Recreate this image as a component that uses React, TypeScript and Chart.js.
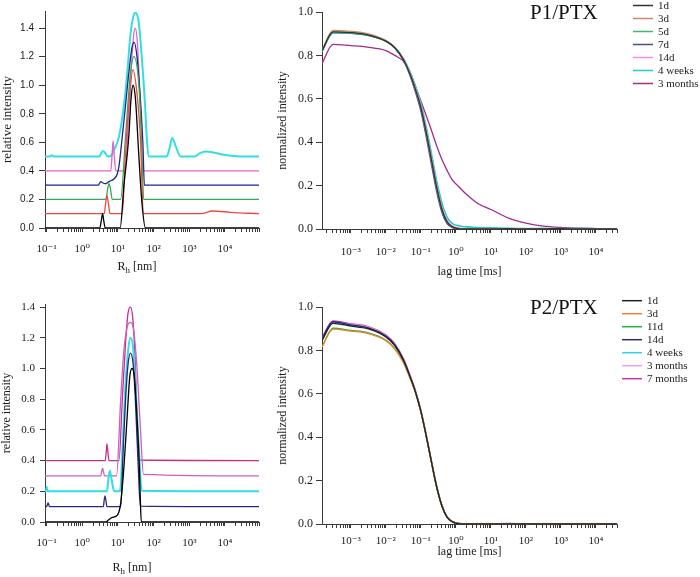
import React, { useEffect, useRef } from 'react';
import { Chart, registerables } from 'chart.js';
Chart.register(...registerables);

const SERIF = '"Liberation Serif", "Times New Roman", "DejaVu Serif", serif';
const SANS = '"Liberation Sans", Arial, sans-serif';

// ---------- tick definitions ----------
const sizeDecades = [0.1, 1, 10, 100, 1000, 10000];
const sizeDecadeLabels = ['10⁻¹', '10⁰', '10¹', '10²', '10³', '10⁴'];
const lagDecades = [0.001, 0.01, 0.1, 1, 10, 100, 1000, 10000];
const lagDecadeLabels = ['10⁻³', '10⁻²', '10⁻¹', '10⁰', '10¹', '10²', '10³', '10⁴'];
const relTicks = [0, 0.2, 0.4, 0.6, 0.8, 1.0, 1.2, 1.4];
const normTicks = [0, 0.2, 0.4, 0.6, 0.8, 1.0];

// ---------- top-left: P1/PTX size distributions (R_h in nm) ----------
const tl1dR = [0.09, 3.1, 3.4, 3.7, 4.0, 4.4, 11.5, 14.7, 20.1, 23.3, 26.5, 30.8, 38, 46.5, 59, 90000];
const tl1dI = [0, 0, 0.05, 0.1, 0.05, 0, 0, 0.3, 0.64, 0.91, 1.0, 0.91, 0.53, 0.19, 0, 0];
const tl3dR = [0.09, 4.1, 4.5, 4.9, 5.4, 6.0, 13.2, 16.3, 20.1, 26.4, 33.9, 42.4, 52, 2150, 4500, 14500, 90000];
const tl3dI = [0.1, 0.1, 0.17, 0.23, 0.17, 0.1, 0.1, 0.525, 0.86, 1.11, 0.95, 0.64, 0.1, 0.1, 0.119, 0.11, 0.1];
const tl5dR = [0.09, 4.6, 5.1, 5.6, 6.2, 6.9, 11.9, 16.3, 22.4, 28, 38, 46.5, 52.5, 90000];
const tl5dI = [0.2, 0.2, 0.27, 0.31, 0.27, 0.2, 0.2, 0.64, 1.085, 1.2, 1.02, 0.59, 0.2, 0.2];
const tl7dR = [0.085, 0.1, 2.8, 3.3, 3.8, 4.5, 5.6, 7.8, 9.6, 10.7, 13.2, 16.3, 20.1, 24.8, 28.7, 34.1, 42.4, 50, 55, 90000];
const tl7dI = [0.325, 0.3, 0.3, 0.325, 0.315, 0.31, 0.325, 0.345, 0.38, 0.435, 0.64, 0.86, 1.085, 1.265, 1.3, 1.2, 0.906, 0.59, 0.3, 0.3];
const tl14dR = [0.09, 6.3, 6.8, 7.3, 7.9, 8.7, 16, 19.5, 24, 27.5, 30.7, 35, 41, 47, 52, 90000];
const tl14dI = [0.4, 0.4, 0.5, 0.61, 0.5, 0.4, 0.4, 0.75, 1.15, 1.35, 1.4, 1.3, 0.95, 0.6, 0.4, 0.4];
const tl4wR = [0.09, 0.12, 0.14, 0.16, 3.0, 3.4, 3.8, 4.4, 5.2, 6.3, 7.8, 10.7, 14.7, 18.2, 22.4, 27.5, 30.7, 38, 46.5, 57.5, 64, 72, 230, 280, 331, 420, 575, 1400, 2000, 2950, 9400, 22000, 90000];
const tl4wI = [0.5, 0.5, 0.51, 0.5, 0.5, 0.525, 0.54, 0.525, 0.5, 0.505, 0.547, 0.64, 0.86, 1.085, 1.355, 1.49, 1.507, 1.445, 1.2, 0.86, 0.64, 0.503, 0.5, 0.56, 0.63, 0.57, 0.5, 0.5, 0.525, 0.536, 0.513, 0.503, 0.5];

// ---------- bottom-left: P2/PTX size distributions ----------
const bl1dR = [0.09, 4.6, 5.5, 6.9, 9.6, 11.9, 14.7, 18.1, 21.4, 24.8, 28.9, 34.1, 39.8, 42.4, 45.2, 90000];
const bl1dI = [0, 0, 0.015, 0.03, 0.045, 0.12, 0.36, 0.686, 0.946, 1.0, 0.946, 0.686, 0.36, 0.143, 0, 0];
const bl14dR = [0.09, 0.1, 0.11, 0.12, 3.9, 4.1, 4.3, 4.6, 4.9, 11.9, 14.0, 16.3, 19.3, 22.4, 26.5, 30.8, 36.4, 42.4, 90000];
const bl14dI = [0.1, 0.1, 0.125, 0.1, 0.1, 0.14, 0.17, 0.14, 0.1, 0.1, 0.469, 0.794, 1.033, 1.1, 1.033, 0.794, 0.4, 0.104, 0.1];
const bl4wR = [0.09, 0.095, 0.1, 0.108, 4.9, 5.4, 5.9, 6.6, 7.8, 11.4, 14.0, 16.3, 19.3, 22.4, 26.5, 30.8, 38, 46.5, 90000];
const bl4wI = [0.2, 0.2, 0.23, 0.2, 0.2, 0.28, 0.334, 0.28, 0.2, 0.2, 0.577, 0.9, 1.12, 1.2, 1.14, 0.9, 0.51, 0.204, 0.2];
const bl3mR = [0.09, 3.3, 3.5, 3.7, 3.9, 4.2, 9.1, 11.9, 14.7, 18.1, 22.4, 27.5, 34, 42.4, 52, 90000];
const bl3mI = [0.3, 0.3, 0.33, 0.35, 0.33, 0.3, 0.3, 0.794, 1.12, 1.27, 1.3, 1.25, 1.01, 0.62, 0.31, 0.3];
const bl7mR = [0.09, 4.4, 4.7, 4.9, 5.2, 5.6, 10.7, 13.2, 16.3, 19.1, 22.4, 26.3, 30.9, 34, 38, 90000];
const bl7mI = [0.4, 0.4, 0.46, 0.508, 0.46, 0.4, 0.4, 0.794, 1.163, 1.359, 1.4, 1.315, 1.01, 0.686, 0.404, 0.4];

// ---------- correlation functions (lag time in ms) ----------
const lagTimes = [0.00015, 0.00031, 0.001, 0.003, 0.01, 0.018, 0.032, 0.05, 0.071, 0.1, 0.14, 0.2, 0.28, 0.4, 0.56, 0.8, 1.3, 2, 4, 10, 32, 100, 320, 1000, 3200, 10000, 40000];

const p1_1d = [0.822, 0.908, 0.905, 0.895, 0.866, 0.835, 0.78, 0.71, 0.64, 0.56, 0.45, 0.32, 0.195, 0.09, 0.033, 0.01, 0.001, 0, 0.001, 0, 0.002, 0, 0.001, 0.002, 0, 0.001, 0];
const p1_3d = [0.826, 0.915, 0.911, 0.9, 0.869, 0.837, 0.781, 0.71, 0.64, 0.56, 0.45, 0.32, 0.195, 0.09, 0.034, 0.01, 0.002, 0.001, 0, 0.002, 0, 0.001, 0, 0.001, 0.002, 0, 0];
const p1_5d = [0.818, 0.906, 0.903, 0.894, 0.865, 0.834, 0.779, 0.709, 0.639, 0.558, 0.448, 0.318, 0.193, 0.089, 0.032, 0.009, 0.001, 0, 0.001, 0, 0.001, 0.002, 0, 0.001, 0, 0.001, 0];
const p1_7d = [0.82, 0.905, 0.903, 0.893, 0.866, 0.834, 0.776, 0.703, 0.628, 0.543, 0.43, 0.298, 0.175, 0.076, 0.025, 0.006, 0, 0, 0.001, 0, 0.001, 0, 0.002, 0, 0.001, 0, 0];
const p1_14d = [0.822, 0.908, 0.905, 0.896, 0.867, 0.836, 0.782, 0.714, 0.646, 0.568, 0.46, 0.333, 0.207, 0.1, 0.04, 0.014, 0.004, 0.002, 0.001, 0, 0.002, 0, 0.001, 0, 0.002, 0, 0.001];
const p1_4w = [0.818, 0.905, 0.902, 0.893, 0.866, 0.837, 0.785, 0.72, 0.655, 0.58, 0.475, 0.35, 0.225, 0.12, 0.055, 0.025, 0.014, 0.01, 0.007, 0.005, 0.003, 0.002, 0.003, 0.002, 0.003, 0.001, 0];
const p1_3m = [0.763, 0.851, 0.845, 0.838, 0.822, 0.8, 0.772, 0.72, 0.655, 0.59, 0.525, 0.455, 0.385, 0.32, 0.27, 0.225, 0.19, 0.16, 0.12, 0.09, 0.05, 0.027, 0.013, 0.007, 0.004, 0.002, 0];

const p2_1d = [0.845, 0.925, 0.912, 0.9, 0.862, 0.822, 0.754, 0.675, 0.605, 0.519, 0.411, 0.287, 0.174, 0.083, 0.032, 0.01, 0.001, 0, 0.001, 0, 0.001, 0, 0, 0.001, 0, 0, 0];
const p2_3d = [0.815, 0.898, 0.889, 0.879, 0.845, 0.806, 0.742, 0.668, 0.603, 0.518, 0.411, 0.287, 0.175, 0.084, 0.033, 0.011, 0.002, 0, 0.001, 0, 0, 0.001, 0, 0, 0.001, 0, 0];
const p2_11d = [0.818, 0.902, 0.892, 0.882, 0.848, 0.809, 0.745, 0.67, 0.604, 0.519, 0.412, 0.288, 0.176, 0.085, 0.033, 0.011, 0.002, 0.001, 0, 0.001, 0, 0, 0.001, 0, 0, 0.001, 0];
const p2_14d = [0.855, 0.932, 0.918, 0.905, 0.866, 0.826, 0.756, 0.676, 0.606, 0.519, 0.411, 0.286, 0.173, 0.082, 0.031, 0.009, 0.001, 0, 0.001, 0, 0.001, 0, 0, 0.001, 0, 0, 0];
const p2_4w = [0.85, 0.928, 0.915, 0.903, 0.865, 0.825, 0.756, 0.677, 0.607, 0.52, 0.412, 0.287, 0.174, 0.083, 0.032, 0.01, 0.002, 0, 0, 0.001, 0.002, 0, 0.001, 0, 0, 0.001, 0];
const p2_3m = [0.852, 0.93, 0.92, 0.908, 0.868, 0.828, 0.758, 0.678, 0.608, 0.521, 0.413, 0.288, 0.175, 0.084, 0.032, 0.01, 0.002, 0.001, 0, 0.002, 0, 0.001, 0.002, 0, 0.001, 0, 0];
const p2_7m = [0.857, 0.935, 0.922, 0.91, 0.87, 0.83, 0.76, 0.68, 0.61, 0.523, 0.415, 0.29, 0.177, 0.085, 0.033, 0.011, 0.002, 0, 0.001, 0, 0.002, 0, 0.001, 0, 0.001, 0, 0];

// ---------- helpers ----------
function ds(label: string, xs: number[], ys: number[], color: string, width = 1.3) {
  return {
    label,
    data: xs.map((x, i) => ({ x, y: ys[i] })),
    borderColor: color,
    backgroundColor: color,
    borderWidth: width,
    pointRadius: 0,
    cubicInterpolationMode: 'monotone',
    fill: false,
  };
}

function logTickValues(min: number, max: number) {
  const out: number[] = [];
  let d = Math.pow(10, Math.floor(Math.log10(min)));
  while (d <= max) {
    for (let m = 1; m <= 9; m++) {
      const v = m * d;
      if (v >= min * 0.9999 && v <= max * 1.0001) out.push(v);
    }
    d *= 10;
  }
  return out;
}

const AXIS = '#3a3a3a';
const TEXT = '#1a1a1a';

function logAxis(o: { min: number; max: number; decades: number[]; labels: string[]; height: number; pad: number; size: number; title?: string; titlePadBottom?: number }) {
  return {
    type: 'logarithmic',
    min: o.min,
    max: o.max,
    bounds: 'data',
    afterBuildTicks: (s: any) => {
      s.ticks = logTickValues(o.min, o.max).map((v) => ({ value: v }));
    },
    afterFit: (s: any) => {
      s.height = o.height;
    },
    ticks: {
      autoSkip: false,
      maxRotation: 0,
      minRotation: 0,
      padding: o.pad,
      color: TEXT,
      font: { family: SERIF, size: o.size },
      callback: (v: any) => {
        const i = o.decades.findIndex((d) => Math.abs(Math.log10(d) - Math.log10(Number(v))) < 1e-6);
        return i >= 0 ? o.labels[i] : '';
      },
    },
    grid: { display: true, drawOnChartArea: false, drawTicks: true, tickLength: 4, color: AXIS, tickColor: AXIS, lineWidth: 1 },
    border: { display: true, color: AXIS, width: 1 },
    title: o.title
      ? { display: true, text: o.title, color: TEXT, font: { family: SERIF, size: 12 }, padding: { top: 0, bottom: o.titlePadBottom || 0 } }
      : { display: false },
  };
}

function linAxis(o: { max: number; ticks: number[]; width: number; family: string; size: number; tl: number; pad: number; title: string; titleSize: number; titlePadTop: number }) {
  return {
    type: 'linear',
    min: 0,
    max: o.max,
    bounds: 'data',
    afterBuildTicks: (s: any) => {
      s.ticks = o.ticks.map((v) => ({ value: v }));
    },
    afterFit: (s: any) => {
      s.width = o.width;
    },
    ticks: {
      padding: o.pad,
      color: TEXT,
      font: { family: o.family, size: o.size },
      callback: (v: any) => Number(v).toFixed(1),
    },
    grid: { display: true, drawOnChartArea: false, drawTicks: true, tickLength: o.tl, color: AXIS, tickColor: AXIS, lineWidth: 1 },
    border: { display: true, color: AXIS, width: 1 },
    title: { display: true, text: o.title, color: TEXT, font: { family: SERIF, size: o.titleSize }, padding: { top: o.titlePadTop, bottom: 0 } },
  };
}

function drawRh(ctx: CanvasRenderingContext2D, cx: number, cy: number, size: number) {
  const main = `${size}px ${SERIF}`;
  const sub = `${Math.round(size * 0.72)}px ${SERIF}`;
  ctx.font = main;
  const wR = ctx.measureText('R').width;
  const wRest = ctx.measureText(' [nm]').width;
  ctx.font = sub;
  const wh = ctx.measureText('h').width;
  let x = cx - (wR + wh + wRest) / 2;
  ctx.textBaseline = 'middle';
  ctx.textAlign = 'left';
  ctx.fillStyle = TEXT;
  ctx.font = main;
  ctx.fillText('R', x, cy);
  x += wR;
  ctx.font = sub;
  ctx.fillText('h', x, cy + size * 0.3);
  x += wh;
  ctx.font = main;
  ctx.fillText(' [nm]', x, cy);
}

const overlayPlugin = {
  id: 'overlay',
  afterDraw(chart: any, _args: any, opts: any) {
    const ctx: CanvasRenderingContext2D = chart.ctx;
    ctx.save();
    if (opts.title) {
      ctx.font = `${opts.titleSize}px ${SERIF}`;
      ctx.fillStyle = '#111';
      ctx.textAlign = 'left';
      ctx.textBaseline = 'alphabetic';
      ctx.fillText(opts.title, opts.titleX, opts.titleY);
    }
    if (opts.legend) {
      chart.data.datasets.forEach((d: any, i: number) => {
        const y = opts.legendY + i * opts.legendRow;
        ctx.strokeStyle = d.borderColor;
        ctx.lineWidth = 1.5;
        ctx.beginPath();
        ctx.moveTo(opts.lineX0, y);
        ctx.lineTo(opts.lineX1, y);
        ctx.stroke();
        ctx.font = `${opts.legendSize}px ${SERIF}`;
        ctx.fillStyle = TEXT;
        ctx.textAlign = 'left';
        ctx.textBaseline = 'middle';
        ctx.fillText(d.label, opts.textX, y + 0.5);
      });
    }
    if (opts.rh) {
      drawRh(ctx, opts.rhX, opts.rhY, 12);
    }
    ctx.restore();
  },
};

function baseConfig(datasets: any[], x: any, y: any, padding: any, overlay: any) {
  return {
    type: 'line',
    data: { datasets },
    options: {
      responsive: false,
      animation: false,
      maintainAspectRatio: false,
      layout: { padding },
      plugins: { legend: { display: false }, tooltip: { enabled: false }, overlay },
      scales: { x, y },
    },
    plugins: [overlayPlugin],
  };
}

// ---------- panel configs ----------
const makeTopLeft = () =>
  baseConfig(
    [
      ds('1d', tl1dR, tl1dI, '#000000'),
      ds('3d', tl3dR, tl3dI, '#ee4a44'),
      ds('5d', tl5dR, tl5dI, '#33aa55'),
      ds('7d', tl7dR, tl7dI, '#23238a'),
      ds('14d', tl14dR, tl14dI, '#dd66cc'),
      ds('4 weeks', tl4wR, tl4wI, '#33dede', 2),
    ],
    logAxis({ min: 0.09, max: 90000, decades: sizeDecades, labels: sizeDecadeLabels, height: 57, pad: 11, size: 11 }),
    linAxis({ max: 1.52, ticks: relTicks, width: 45, family: SANS, size: 10, tl: 6, pad: 5, title: 'relative intensity', titleSize: 13, titlePadTop: 0 }),
    { top: 2, right: 8, left: 0, bottom: 0 },
    { rh: true, rhX: 137, rhY: 267 }
  );

const makeTopRight = () =>
  baseConfig(
    [
      ds('1d', lagTimes, p1_1d, '#333333'),
      ds('3d', lagTimes, p1_3d, '#c98a66'),
      ds('5d', lagTimes, p1_5d, '#3cb878'),
      ds('7d', lagTimes, p1_7d, '#4a4a96'),
      ds('14d', lagTimes, p1_14d, '#f08ee0'),
      ds('4 weeks', lagTimes, p1_4w, '#22cccc', 1.6),
      ds('3 months', lagTimes, p1_3m, '#a52a8a'),
    ],
    logAxis({ min: 0.00015, max: 40000, decades: lagDecades, labels: lagDecadeLabels, height: 56, pad: 13, size: 11, title: 'lag time [ms]', titlePadBottom: 6 }),
    linAxis({ max: 1.0, ticks: normTicks, width: 62, family: SERIF, size: 12, tl: 6, pad: 3, title: 'normalized intensity', titleSize: 12, titlePadTop: 16 }),
    { top: 12, right: 83, left: 0, bottom: 0 },
    { title: 'P1/PTX', titleSize: 21, titleX: 270, titleY: 18.5, legend: true, legendY: 5.5, legendRow: 13, lineX0: 373, lineX1: 393, textX: 398, legendSize: 11 }
  );

const makeBottomLeft = () =>
  baseConfig(
    [
      ds('1d', bl1dR, bl1dI, '#000000'),
      ds('14d', bl14dR, bl14dI, '#2a2a80'),
      ds('4 weeks', bl4wR, bl4wI, '#33dede', 2),
      ds('3 months', bl3mR, bl3mI, '#cc5fc0'),
      ds('7 months', bl7mR, bl7mI, '#c0308c'),
    ],
    logAxis({ min: 0.09, max: 90000, decades: sizeDecades, labels: sizeDecadeLabels, height: 55, pad: 11, size: 11 }),
    linAxis({ max: 1.42, ticks: relTicks, width: 45, family: SERIF, size: 11, tl: 5, pad: 5, title: 'relative intensity', titleSize: 12, titlePadTop: 0 }),
    { top: 19, right: 8, left: 0, bottom: 0 },
    { rh: true, rhX: 132, rhY: 283 }
  );

const makeBottomRight = () =>
  baseConfig(
    [
      ds('1d', lagTimes, p2_1d, '#222222'),
      ds('3d', lagTimes, p2_3d, '#f08030'),
      ds('11d', lagTimes, p2_11d, '#22b040'),
      ds('14d', lagTimes, p2_14d, '#2c2c6c'),
      ds('4 weeks', lagTimes, p2_4w, '#30d4e0'),
      ds('3 months', lagTimes, p2_3m, '#f0a0e8'),
      ds('7 months', lagTimes, p2_7m, '#d030a8', 1.6),
    ],
    logAxis({ min: 0.00015, max: 40000, decades: lagDecades, labels: lagDecadeLabels, height: 53, pad: 7, size: 11, title: 'lag time [ms]', titlePadBottom: 18 }),
    linAxis({ max: 1.0, ticks: normTicks, width: 62, family: SERIF, size: 12, tl: 6, pad: 3, title: 'normalized intensity', titleSize: 12, titlePadTop: 16 }),
    { top: 22, right: 83, left: 0, bottom: 0 },
    { title: 'P2/PTX', titleSize: 21, titleX: 270, titleY: 28.5, legend: true, legendY: 15.7, legendRow: 13, lineX0: 362, lineX1: 382, textX: 387, legendSize: 11 }
  );

function Panel({ left, top, width, height, make }: { left: number; top: number; width: number; height: number; make: () => any }) {
  const ref = useRef<HTMLCanvasElement>(null);
  useEffect(() => {
    if (!ref.current) return;
    const chart = new Chart(ref.current, make());
    return () => chart.destroy();
  }, []);
  return (
    <canvas
      ref={ref}
      width={width}
      height={height}
      style={{ position: 'absolute', left, top, width, height, display: 'block' }}
    />
  );
}

export default function App() {
  return (
    <div style={{ position: 'absolute', left: 0, top: 0, width: 700, height: 577, background: '#ffffff', overflow: 'hidden' }}>
      <Panel left={0} top={0} width={270} height={285} make={makeTopLeft} />
      <Panel left={260} top={0} width={440} height={285} make={makeTopRight} />
      <Panel left={0} top={285} width={270} height={292} make={makeBottomLeft} />
      <Panel left={260} top={285} width={440} height={292} make={makeBottomRight} />
    </div>
  );
}
